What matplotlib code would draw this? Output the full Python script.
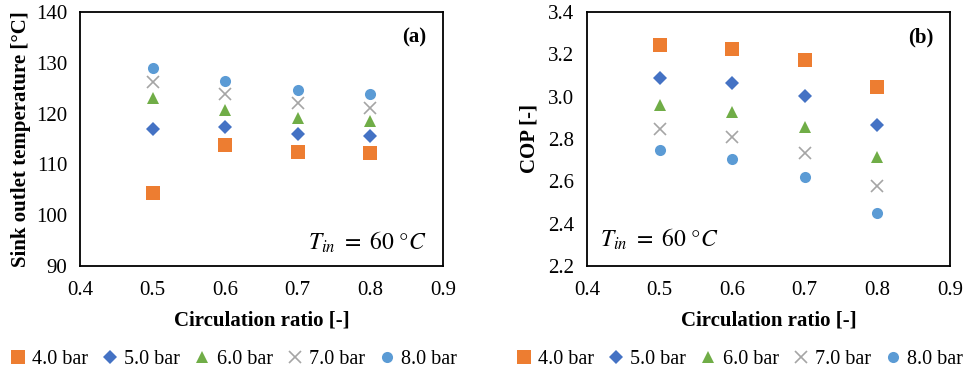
import matplotlib.pyplot as plt
import numpy as np

plt.rcParams['font.family'] = 'Liberation Serif'
plt.rcParams['mathtext.fontset'] = 'stix'

ratio = [0.5, 0.6, 0.7, 0.8]
pressures = ['4.0 bar', '5.0 bar', '6.0 bar', '7.0 bar', '8.0 bar']

# sink outlet temperature [°C]
t_out = {
    '4.0 bar': [104.3, 113.9, 112.5, 112.2],
    '5.0 bar': [117.0, 117.4, 116.0, 115.6],
    '6.0 bar': [123.0, 120.7, 119.2, 118.5],
    '7.0 bar': [126.3, 123.8, 122.1, 121.2],
    '8.0 bar': [129.0, 126.5, 124.7, 123.9],
}
# COP [-]
cop = {
    '4.0 bar': [3.242, 3.226, 3.174, 3.048],
    '5.0 bar': [3.089, 3.065, 3.003, 2.867],
    '6.0 bar': [2.959, 2.927, 2.859, 2.714],
    '7.0 bar': [2.849, 2.811, 2.732, 2.577],
    '8.0 bar': [2.749, 2.705, 2.620, 2.452],
}

colors = ['#ED7D31', '#4472C4', '#70AD47', '#A5A5A5', '#5B9BD5']
markers = ['s', 'D', '^', 'x', 'o']
msizes = [9.5, 7.5, 9, 9, 8]

fig = plt.figure(figsize=(9.65, 3.71), dpi=100)
ax1 = fig.add_axes([80 / 965, 1 - 266 / 371, 363 / 965, 254 / 371])
ax2 = fig.add_axes([587 / 965, 1 - 266 / 371, 363 / 965, 254 / 371])

FS = 15


def draw(ax, data, leg_x):
    for p, c, m, ms in zip(pressures, colors, markers, msizes):
        mew = 1.2 if m == 'x' else 0
        ax.plot(ratio, data[p], linestyle='none', marker=m, color=c,
                markersize=ms, markeredgewidth=mew, label=p)
    ax.set_xlim(0.4, 0.9)
    ax.set_xticks([0.4, 0.5, 0.6, 0.7, 0.8, 0.9])
    ax.tick_params(axis='x', length=0, labelsize=FS, pad=11)
    ax.tick_params(axis='y', length=0, labelsize=FS, pad=9)
    for s in ax.spines.values():
        s.set_linewidth(1.3)
    ax.set_xlabel('Circulation ratio [-]', fontsize=FS, fontweight='bold', labelpad=7)
    h, l = ax.get_legend_handles_labels()
    fig.legend(h, l, loc='center left', bbox_to_anchor=(leg_x / 965, 1 - 359 / 371),
               ncol=5, frameon=False, fontsize=14.5, borderpad=0, borderaxespad=0,
               handletextpad=0.3, columnspacing=0.7, handlelength=0.8)


draw(ax1, t_out, 10)
ax1.set_ylim(90, 140)
ax1.set_yticks(np.arange(90, 141, 10))
ax1.set_ylabel('Sink outlet temperature [°C]', fontsize=FS, fontweight='bold', labelpad=4)
ax1.text(0.955, 0.9, '(a)', transform=ax1.transAxes, ha='right', va='center',
         fontsize=15, fontweight='bold')
ax1.text(0.955, 0.095, r'$T_{in}\ =\ 60\ °C$', transform=ax1.transAxes, ha='right',
         va='center', fontsize=17)

draw(ax2, cop, 516)
ax2.set_ylim(2.2, 3.4)
ax2.set_yticks(np.arange(2.2, 3.41, 0.2))
ax2.yaxis.set_major_formatter(plt.FormatStrFormatter('%.1f'))
ax2.set_ylabel('COP [-]', fontsize=FS, fontweight='bold', labelpad=6)
ax2.text(0.955, 0.9, '(b)', transform=ax2.transAxes, ha='right', va='center',
         fontsize=15, fontweight='bold')
ax2.text(0.035, 0.105, r'$T_{in}\ =\ 60\ °C$', transform=ax2.transAxes, ha='left',
         va='center', fontsize=17)

fig.savefig('out.png', dpi=100)
